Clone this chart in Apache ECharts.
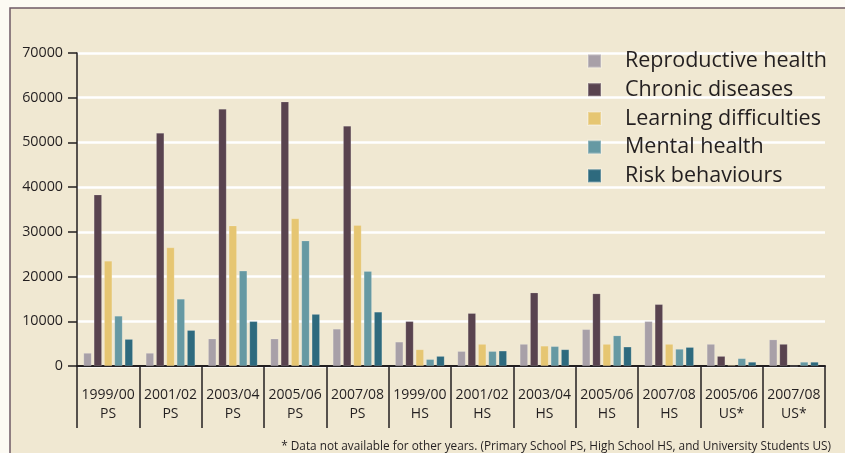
<!DOCTYPE html>
<html><head><meta charset="utf-8">
<script src="https://cdn.jsdelivr.net/npm/echarts@6/dist/echarts.min.js"></script>
<style>html,body{margin:0;padding:0;background:#FCFAF3;}#c{width:845px;height:453px;}</style>
</head><body><div id="c"></div>
<script>
const categories = ['1999/00\nPS','2001/02\nPS','2003/04\nPS','2005/06\nPS','2007/08\nPS','1999/00\nHS','2001/02\nHS','2003/04\nHS','2005/06\nHS','2007/08\nHS','2005/06\nUS*','2007/08\nUS*'];
const seriesNames = ['Reproductive health','Chronic diseases','Learning difficulties','Mental health','Risk behaviours'];
const reproductive = [2900, 2900, 6100, 6100, 8300, 5400, 3300, 4900, 8200, 10000, 4900, 5900];
const chronic = [38300, 52100, 57500, 59100, 53700, 10000, 11800, 16400, 16200, 13800, 2200, 4900];
const learning = [23500, 26500, 31400, 33000, 31500, 3700, 4900, 4500, 4900, 4900, 200, 0];
const mental = [11200, 15000, 21300, 28000, 21200, 1500, 3300, 4400, 6800, 3800, 1700, 900];
const risk = [6000, 8000, 10000, 11600, 12100, 2200, 3400, 3700, 4300, 4200, 900, 900];
const yTicks = [0, 10000, 20000, 30000, 40000, 50000, 60000, 70000];
const footnote = '* Data not available for other years. (Primary School PS, High School HS, and University Students US)';

const colors = ['#A8A0A8','#59434F','#E6C672','#6699A3','#2E6A7E'];
const font = '"Open Sans", sans-serif';
const dataSets = [reproductive, chronic, learning, mental, risk];

const chart = echarts.init(document.getElementById('c'), null, {renderer:'canvas'});
chart.setOption({
  animation: false,
  backgroundColor: '#FCFAF3',
  graphic: [
    {type:'rect', z:-10, shape:{x:10, y:8, width:845, height:460}, style:{fill:'#F0E8D2', stroke:'#6E5A66', lineWidth:1.5}},
    {type:'text', right:14, top:441, style:{text:footnote, font:'11.8px "Open Sans", sans-serif', fill:'#231F20'}}
  ],
  grid: {left:77, right:20, top:53, bottom:87, containLabel:false},
  legend: {
    orient:'vertical', left:587, top:50, padding:0, itemWidth:13, itemHeight:13, itemGap:6.7,
    icon:'rect', data: seriesNames,
    textStyle:{fontFamily:font, fontSize:21.5, color:'#231F20', padding:[0,0,0,19], lineHeight:22}
  },
  xAxis: {
    type:'category', data: categories, boundaryGap:true,
    axisLine:{lineStyle:{color:'#231F20', width:2}},
    axisTick:{show:true, interval:0, length:62, lineStyle:{color:'#231F20', width:1.5}},
    axisLabel:{interval:0, margin:20, fontFamily:font, fontSize:14, lineHeight:19, color:'#231F20'}
  },
  yAxis: {
    type:'value', min:yTicks[0], max:yTicks[yTicks.length-1], interval:10000,
    axisLine:{show:true, lineStyle:{color:'#231F20', width:1.5}},
    axisTick:{show:true, length:9, lineStyle:{color:'#231F20', width:1.5}},
    axisLabel:{margin:14, fontFamily:font, fontSize:14.3, color:'#231F20', formatter:(v)=>String(v)},
    splitLine:{show:true, lineStyle:{color:'#FFFFFF', width:2.5}}
  },
  series: seriesNames.map((n,i)=>({
    name:n, type:'bar', data:dataSets[i], barWidth:8, barGap:'29%',
    itemStyle:{color:colors[i], borderColor:'rgba(255,255,255,0.25)', borderWidth:0.6}
  }))
});
</script></body></html>
